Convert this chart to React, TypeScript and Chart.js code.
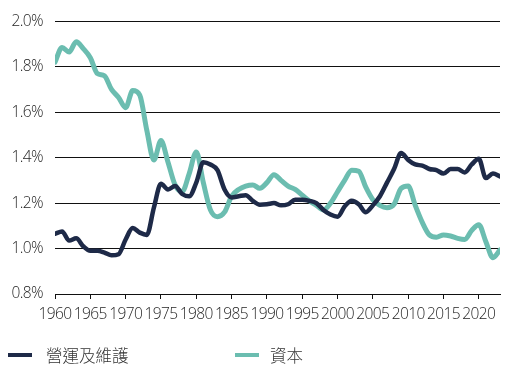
import React, { useEffect, useRef } from "react";
import { Chart, registerables } from "chart.js";

Chart.register(...registerables);

const years = [
  1960, 1961, 1962, 1963, 1964, 1965, 1966, 1967, 1968, 1969,
  1970, 1971, 1972, 1973, 1974, 1975, 1976, 1977, 1978, 1979,
  1980, 1981, 1982, 1983, 1984, 1985, 1986, 1987, 1988, 1989,
  1990, 1991, 1992, 1993, 1994, 1995, 1996, 1997, 1998, 1999,
  2000, 2001, 2002, 2003, 2004, 2005, 2006, 2007, 2008, 2009,
  2010, 2011, 2012, 2013, 2014, 2015, 2016, 2017, 2018, 2019,
  2020, 2021, 2022, 2023,
];

// 營運及維護 (O&M), %
const omValues = [
  1.065, 1.075, 1.035, 1.045, 1.01, 0.99, 0.99, 0.982, 0.97, 0.975,
  1.04, 1.09, 1.07, 1.06, 1.18, 1.285, 1.26, 1.275, 1.24, 1.23,
  1.29, 1.38, 1.37, 1.345, 1.26, 1.225, 1.23, 1.235, 1.21, 1.193,
  1.195, 1.2, 1.19, 1.195, 1.215, 1.215, 1.21, 1.2, 1.17, 1.15,
  1.14, 1.185, 1.21, 1.195, 1.16, 1.19, 1.23, 1.29, 1.35, 1.42,
  1.39, 1.37, 1.365, 1.35, 1.345, 1.33, 1.35, 1.35, 1.335, 1.37,
  1.395, 1.31, 1.33, 1.317,
];

// 資本 (capital), %
const capitalValues = [
  1.82, 1.885, 1.865, 1.91, 1.88, 1.84, 1.77, 1.76, 1.7, 1.665,
  1.62, 1.695, 1.675, 1.52, 1.39, 1.475, 1.38, 1.28, 1.25, 1.33,
  1.425, 1.29, 1.17, 1.14, 1.16, 1.23, 1.26, 1.275, 1.28, 1.265,
  1.29, 1.325, 1.3, 1.275, 1.26, 1.235, 1.21, 1.19, 1.17, 1.2,
  1.25, 1.3, 1.345, 1.34, 1.27, 1.215, 1.19, 1.18, 1.195, 1.265,
  1.275, 1.19, 1.115, 1.06, 1.05, 1.06, 1.055, 1.045, 1.04, 1.08,
  1.105, 1.03, 0.96, 0.994,
];

const seriesLabels = ["營運及維護", "資本"];
const seriesColors = ["#1e2a48", "#6bbdb0"];

const TICK_FAMILY = "'Open Sans', sans-serif";
const CJK_FONT = "'Noto Sans CJK TC', 'Noto Sans CJK SC', sans-serif";

const letterSpacingPlugin = {
  id: "tickLetterSpacing",
  beforeDraw(chart: any) {
    (chart.ctx as any).letterSpacing = "-0.6px";
  },
};

export default function App() {
  const canvasRef = useRef<HTMLCanvasElement | null>(null);

  useEffect(() => {
    document.body.style.margin = "0";
    const canvas = canvasRef.current;
    if (!canvas) return;
    const chart = new Chart(canvas, {
      type: "line",
      plugins: [letterSpacingPlugin],
      data: {
        datasets: [
          {
            label: seriesLabels[0],
            data: years.map((y, i) => ({ x: y, y: omValues[i] })),
            borderColor: seriesColors[0],
            backgroundColor: seriesColors[0],
            borderWidth: 4.5,
            pointRadius: 0,
            cubicInterpolationMode: "monotone",
            borderCapStyle: "round",
            borderJoinStyle: "round",
          },
          {
            label: seriesLabels[1],
            data: years.map((y, i) => ({ x: y, y: capitalValues[i] })),
            borderColor: seriesColors[1],
            backgroundColor: seriesColors[1],
            borderWidth: 5,
            pointRadius: 0,
            cubicInterpolationMode: "monotone",
            borderCapStyle: "round",
            borderJoinStyle: "round",
          },
        ],
      },
      options: {
        animation: false,
        responsive: false,
        maintainAspectRatio: false,
        layout: { padding: { top: 19, right: 20, bottom: 40, left: 0 } },
        plugins: {
          legend: { display: false },
          tooltip: { enabled: false },
        },
        scales: {
          x: {
            type: "linear",
            min: 1960,
            max: 2023,
            afterFit: (scale: any) => {
              scale.height = 40;
            },
            grid: {
              drawOnChartArea: false,
              drawTicks: true,
              tickLength: 5,
              color: "#111",
              lineWidth: 1,
            },
            border: { display: true, color: "#111", width: 1 },
            ticks: {
              stepSize: 5,
              includeBounds: false,
              autoSkip: false,
              maxRotation: 0,
              padding: 6,
              color: "#1f1f1f",
              font: { family: TICK_FAMILY, weight: "300" as any, size: 15.5 },
              callback: (v: any) => String(v),
            },
          },
          y: {
            min: 0.8,
            max: 2.0,
            afterFit: (scale: any) => {
              scale.width = 55;
            },
            grid: {
              drawTicks: false,
              color: "#111",
              lineWidth: 1,
            },
            border: { display: false },
            ticks: {
              stepSize: 0.2,
              padding: 12,
              color: "#1f1f1f",
              font: { family: TICK_FAMILY, weight: "300" as any, size: 15.5 },
              callback: (v: any) => Number(v).toFixed(1) + "%",
            },
          },
        },
      },
    });
    return () => chart.destroy();
  }, []);

  const legendItem = (i: number, left: number, textLeft: number) => (
    <div key={i}>
      <div
        style={{
          position: "absolute",
          left,
          top: 353,
          width: 24,
          height: 4,
          background: seriesColors[i],
        }}
      />
      <div
        style={{
          position: "absolute",
          left: textLeft,
          top: 344,
          fontFamily: CJK_FONT,
          fontWeight: 300,
          fontSize: 16.5,
          lineHeight: "22px",
          color: "#333",
          whiteSpace: "nowrap",
        }}
      >
        {seriesLabels[i]}
      </div>
    </div>
  );

  return (
    <div style={{ position: "relative", width: 520, height: 374, overflow: "hidden", background: "#fff" }}>
      <canvas ref={canvasRef} width={520} height={374} style={{ position: "absolute", left: 0, top: 0, width: 520, height: 374 }} />
      {legendItem(0, 8, 46)}
      {legendItem(1, 235, 270)}
    </div>
  );
}
